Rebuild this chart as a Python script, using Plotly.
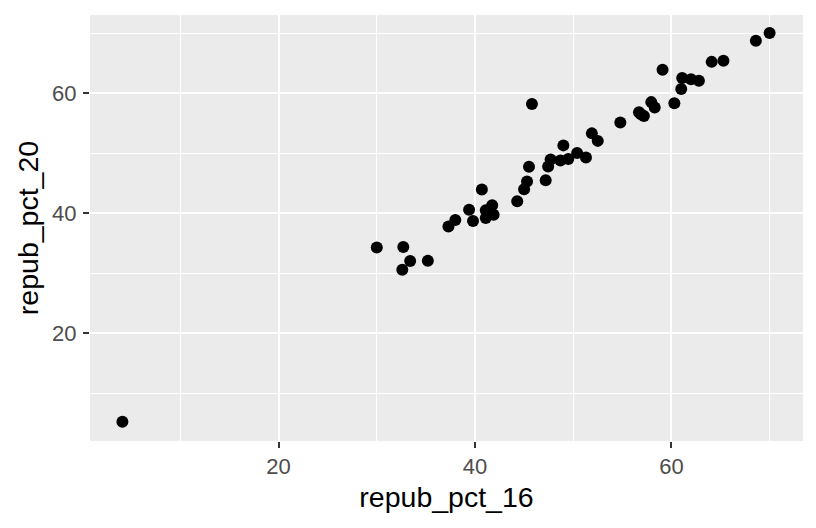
import plotly.graph_objects as go

repub_pct_16 = [4.1, 30.0, 32.7, 33.4, 35.2, 32.6, 37.3, 38.0, 39.8, 39.4,
                40.7, 41.1, 41.75, 41.9, 41.1, 44.3, 45.0, 45.3, 45.5, 45.8,
                47.2, 47.45, 47.7, 48.7, 49.5, 49.0, 50.4, 51.3, 51.9, 52.5,
                54.8, 56.7, 56.9, 57.2, 57.95, 58.3, 59.1, 60.3, 61.0, 61.1,
                62.0, 62.8, 64.1, 65.3, 68.6, 70.0]
repub_pct_20 = [5.3, 34.3, 34.4, 32.05, 32.1, 30.6, 37.8, 38.9, 38.7, 40.6,
                43.95, 40.5, 41.35, 39.75, 39.2, 42.0, 44.0, 45.3, 47.75, 58.2,
                45.5, 47.8, 48.95, 48.8, 49.05, 51.3, 50.05, 49.3, 53.3, 52.05,
                55.1, 56.8, 56.5, 56.2, 58.5, 57.6, 63.9, 58.3, 60.7, 62.5,
                62.3, 62.05, 65.2, 65.4, 68.7, 70.0]

x_ticks = [20, 40, 60]
y_ticks = [20, 40, 60]

fig = go.Figure(go.Scatter(
    x=repub_pct_16, y=repub_pct_20, mode="markers",
    marker=dict(color="black", size=12, line=dict(width=0)),
    hoverinfo="x+y",
))

axis_common = dict(
    automargin=False,
    showline=False, zeroline=False,
    showgrid=True, gridcolor="white", gridwidth=2,
    ticks="outside", ticklen=6, tickwidth=2, tickcolor="#333333",
    tickfont=dict(family="Liberation Sans, Arial, sans-serif", size=22, color="#4D4D4D"),
    minor=dict(dtick=10, tick0=0, showgrid=True, gridcolor="white", gridwidth=1, ticks=""),
)

# page body has an 8px default margin; size the figure so it fits the window
fig.update_layout(
    template="none",
    width=808, height=520,
    paper_bgcolor="white", plot_bgcolor="#EBEBEB",
    margin=dict(l=82, r=13, t=7, b=87, pad=0),
    showlegend=False,
    font=dict(family="Liberation Sans, Arial, sans-serif", color="black"),
    xaxis=dict(axis_common, range=[0.8, 73.4], tickvals=x_ticks, ticklabelstandoff=0,
               title=dict(text="repub_pct_16", font=dict(size=28.5, color="black"), standoff=8)),
    yaxis=dict(axis_common, range=[2.1, 73.0], tickvals=y_ticks, ticklabelstandoff=2,
               title=dict(text="repub_pct_20", font=dict(size=28.5, color="black"), standoff=5)),
)

fig.write_html("out.html")
